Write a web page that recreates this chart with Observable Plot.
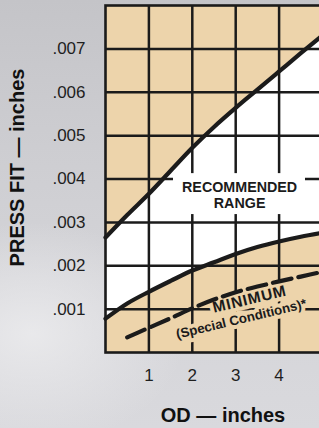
<!DOCTYPE html>
<html>
<head>
<meta charset="utf-8">
<script src="https://cdn.jsdelivr.net/npm/d3@7"></script>
<script src="https://cdn.jsdelivr.net/npm/@observablehq/plot@0.6"></script>
<style>
html, body { margin: 0; padding: 0; width: 319px; height: 428px; overflow: hidden; }
#chart {
  width: 319px; height: 428px; overflow: hidden; position: relative;
  background:
    radial-gradient(ellipse 220px 160px at 10% 78%, rgba(236,236,238,0.85) 0%, rgba(236,236,238,0) 70%),
    linear-gradient(180deg, #c4c4c8 0%, #ccccd0 30%, #d4d4d8 65%, #d9d9dd 100%);
}
#chart svg { display: block; }
</style>
</head>
<body>
<div id="chart"></div>
<script>
// Outside diameter (inches)
const odValues = [0, 0.5, 1, 1.5, 2, 2.5, 3, 3.5, 4, 4.5, 5];
// Upper limit of recommended press fit (inches)
const upperFit = [0.00265, 0.00317, 0.00366, 0.00419, 0.00472, 0.00520, 0.00564, 0.00606, 0.00648, 0.00690, 0.00731];
// Lower limit of recommended press fit (inches)
const lowerFit = [0.00078, 0.00113, 0.00140, 0.00165, 0.00189, 0.00208, 0.00227, 0.00243, 0.00256, 0.00267, 0.00276];
// Minimum (special conditions) curve
const minimumOd = [0.5, 1, 1.5, 2, 2.5, 3, 3.5, 4, 4.5, 5];
const minimumFit = [0.00035, 0.00057, 0.00079, 0.00102, 0.00122, 0.00139, 0.00152, 0.00164, 0.00175, 0.00186];

const xDomain = [0, 5];
const yDomain = [0, 0.008];
const xTickValues = [1, 2, 3, 4];
const xTickLabels = ["1", "2", "3", "4"];
const yTickValues = [0.001, 0.002, 0.003, 0.004, 0.005, 0.006, 0.007];
const yTickLabels = [".001", ".002", ".003", ".004", ".005", ".006", ".007"];

const xTitle = "OD — inches";
const yTitle = "PRESS FIT — inches";
const rangeLabel = "RECOMMENDED\nRANGE";
const minLabel1 = "MINIMUM";
const minLabel2 = "(Special Conditions)*";

const band = odValues.map((od, i) => ({od, upper: upperFit[i], lower: lowerFit[i]}));
const minimum = minimumOd.map((od, i) => ({od, fit: minimumFit[i]}));

const tan = "#edd4ab";
const ink = "#1b1b1b";

const chart = Plot.plot({
  width: 330,
  height: 428,
  marginLeft: 105,
  marginRight: 8,
  marginTop: 5,
  marginBottom: 76,
  style: {
    background: "transparent",
    maxWidth: "none",
    overflow: "hidden",
    fontFamily: "'Liberation Sans', Arial, sans-serif",
    fontSize: "17px",
    color: "#1e1e1e"
  },
  x: {
    domain: xDomain,
    ticks: xTickValues,
    tickFormat: d => xTickLabels[xTickValues.indexOf(d)],
    tickSize: 0,
    tickPadding: 16,
    label: null
  },
  y: {
    domain: yDomain,
    ticks: yTickValues,
    tickFormat: d => yTickLabels[yTickValues.indexOf(d)],
    tickSize: 0,
    tickPadding: 20,
    label: null
  },
  marks: [
    Plot.frame({fill: "white"}),
    Plot.areaY(band, {x: "od", y1: "upper", y2: () => yDomain[1], fill: tan, curve: "monotone-x"}),
    Plot.areaY(band, {x: "od", y1: () => yDomain[0], y2: "lower", fill: tan, curve: "monotone-x"}),
    Plot.ruleX(xTickValues, {stroke: ink, strokeWidth: 2.5}),
    Plot.ruleY(yTickValues, {stroke: ink, strokeWidth: 2.5}),
    // white panel behind the range label
    Plot.rect([rangeLabel], {x1: 1.567, x2: 4.608, y1: 0.00318, y2: 0.004124, fill: "white"}),
    // minimum label with tan knockout
    Plot.text([minLabel1], {x: 3.32, y: 0.001228, rotate: -13.5, fontSize: 15.5, fontWeight: "bold",
      fill: ink, stroke: tan, strokeWidth: 8, className: "minlabel"}),
    Plot.text([minLabel2], {x: 3.13, y: 0.00077, rotate: -13.5, fontSize: 13.3, fontWeight: "bold",
      fill: ink, stroke: tan, strokeWidth: 8}),
    Plot.line(band, {x: "od", y: "upper", stroke: ink, strokeWidth: 4.2, curve: "monotone-x"}),
    Plot.line(band, {x: "od", y: "lower", stroke: ink, strokeWidth: 4.2, curve: "monotone-x"}),
    Plot.line(minimum, {x: "od", y: "fit", stroke: ink, strokeWidth: 4.2, strokeDasharray: "19,7", curve: "monotone-x"}),
    Plot.frame({stroke: ink, strokeWidth: 2.6}),
    Plot.text([rangeLabel], {x: 3.09, y: 0.00363, fontSize: 14.3, fontWeight: "bold", lineHeight: 1.12, fill: ink}),
    Plot.text([xTitle], {frameAnchor: "bottom", textAnchor: "middle", lineAnchor: "middle", dy: 63, dx: 9,
      fontSize: 20, fontWeight: "bold", fill: "#111"}),
    Plot.text([yTitle], {frameAnchor: "left", textAnchor: "middle", lineAnchor: "middle", rotate: -90,
      dx: -87.5, dy: -11.5, fontSize: 20, fontWeight: "bold", fill: "#111"})
  ]
});

d3.select(chart).selectAll(".minlabel text").style("letter-spacing", "0.8px");
document.getElementById("chart").appendChild(chart);
</script>
</body>
</html>
